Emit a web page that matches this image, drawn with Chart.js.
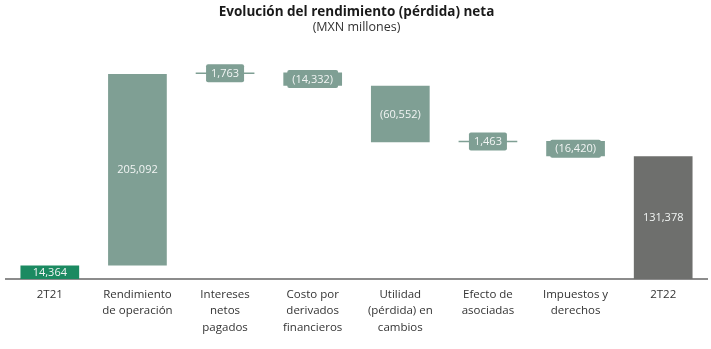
<!DOCTYPE html>
<html>
<head>
<meta charset="utf-8">
<script src="https://cdn.jsdelivr.net/npm/chart.js@4.4.0/dist/chart.umd.min.js"></script>
<style>
  html, body { margin: 0; padding: 0; background: #fff; }
  #wrap { width: 711px; height: 349px; }
</style>
</head>
<body>
<div id="wrap"><canvas id="myChart"></canvas></div>
<script>
// datos del gráfico
const categorias = [
    '2T21',
    ['Rendimiento', 'de operación'],
    ['Intereses', 'netos', 'pagados'],
    ['Costo por', 'derivados', 'financieros'],
    ['Utilidad', '(pérdida) en', 'cambios'],
    ['Efecto de', 'asociadas'],
    ['Impuestos y', 'derechos'],
    '2T22'
];
const variaciones = [14364, 205092, 1763, -14332, -60552, 1463, -16420, 131378];
const tipos = ['total', 'delta', 'delta', 'delta', 'delta', 'delta', 'delta', 'total'];
const etiquetas = ['14,364', '205,092', '1,763', '(14,332)', '(60,552)', '1,463', '(16,420)', '131,378'];

const colorInicio = '#1b8a61';
const colorDelta = '#7f9f94';
const colorFinal = '#6e6f6d';

// rangos flotantes del waterfall
let acumulado = 0;
const rangos = variaciones.map((v, i) => {
    if (tipos[i] === 'total') {
        acumulado = v;
        return [0, v];
    }
    const inicio = acumulado;
    acumulado += v;
    return [inicio, acumulado];
});
const colores = tipos.map((t, i) => i === 0 ? colorInicio : (t === 'total' ? colorFinal : colorDelta));

const etiquetasPlugin = {
    id: 'etiquetas',
    afterDatasetsDraw(chart) {
        const ctx = chart.ctx;
        const meta = chart.getDatasetMeta(0);
        ctx.save();
        ctx.font = '11px "Open Sans"';
        ctx.textAlign = 'center';
        ctx.textBaseline = 'middle';
        meta.data.forEach((bar, i) => {
            const top = Math.min(bar.y, bar.base);
            const bottom = Math.max(bar.y, bar.base);
            const mid = (top + bottom) / 2;
            const texto = etiquetas[i];
            if (tipos[i] === 'delta' && bottom - top < 22) {
                const w = ctx.measureText(texto).width + 10;
                const h = 18;
                ctx.fillStyle = colores[i];
                ctx.beginPath();
                ctx.roundRect(bar.x - w / 2, mid - h / 2, w, h, 2);
                ctx.fill();
            }
            ctx.fillStyle = '#f2f5f4';
            ctx.fillText(texto, bar.x, mid + 0.5);
        });
        ctx.restore();
    }
};

const ctx = document.getElementById('myChart');

new Chart(ctx, {
    type: 'bar',
    data: {
        labels: categorias,
        datasets: [{
            data: rangos,
            backgroundColor: colores,
            borderWidth: 0,
            barPercentage: 0.67,
            categoryPercentage: 1,
            minBarLength: 1.5
        }]
    },
    options: {
        responsive: true,
        maintainAspectRatio: false,
        animation: false,
        layout: { padding: { left: 6, right: 4, top: 0, bottom: 0 } },
        plugins: {
            legend: { display: false },
            tooltip: { enabled: false },
            title: {
                display: true,
                text: 'Evolución del rendimiento (pérdida) neta',
                color: '#1a1a1a',
                font: { family: 'Open Sans', size: 13.5, weight: 'bold' },
                padding: { top: 4, bottom: 0 }
            },
            subtitle: {
                display: true,
                text: '(MXN millones)',
                color: '#333',
                font: { family: 'Open Sans', size: 12.5 },
                padding: { top: 0, bottom: 15 }
            }
        },
        scales: {
            x: {
                grid: { display: false },
                border: { display: true, color: '#8c8c8c', width: 2 },
                ticks: {
                    color: '#333',
                    font: { family: 'Open Sans', size: 11.5, lineHeight: 1.4 },
                    padding: 0,
                    maxRotation: 0,
                    autoSkip: false
                },
                afterFit(scale) { scale.height = 70; }
            },
            y: {
                display: false,
                min: 0,
                max: 245000
            }
        }
    },
    plugins: [etiquetasPlugin]
});
</script>
</body>
</html>
